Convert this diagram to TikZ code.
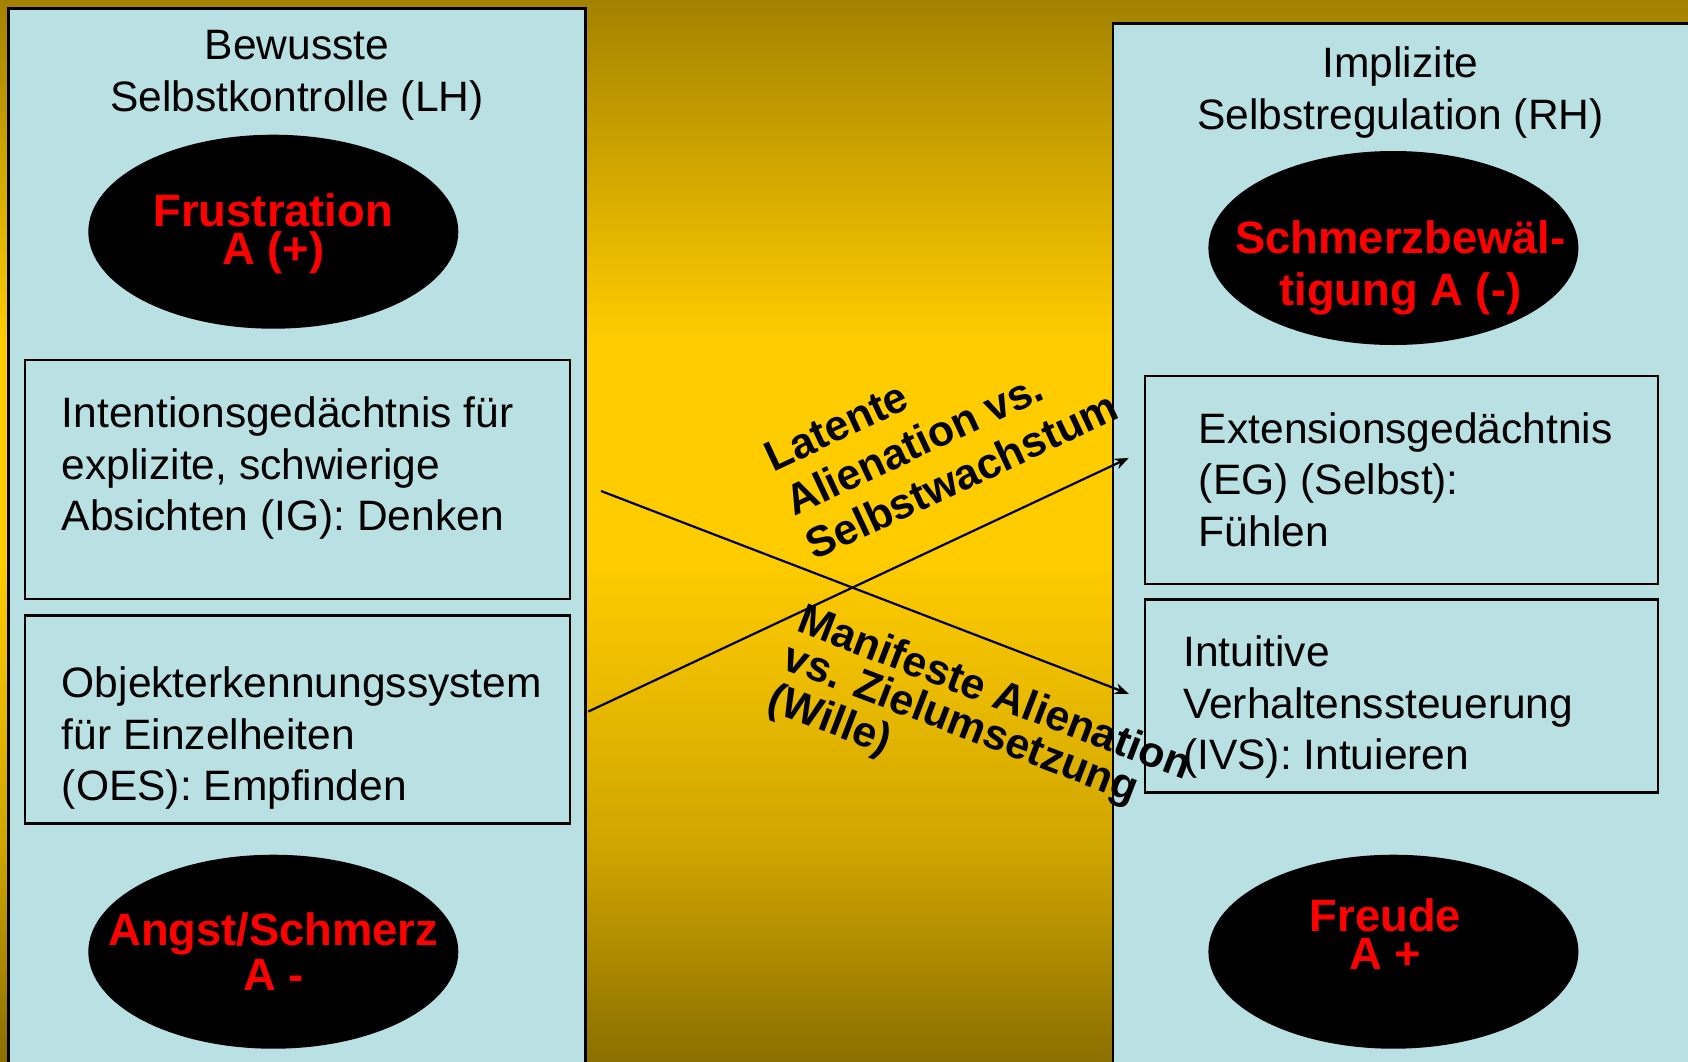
\documentclass[tikz,border=0pt]{standalone}
\usepackage{fontspec}
\setmainfont{Liberation Sans}
\usetikzlibrary{arrows.meta,calc,shapes.geometric}

\definecolor{panel}{RGB}{185,224,227}
\definecolor{goldtop}{RGB}{163,130,0}
\definecolor{goldmid}{RGB}{255,204,0}
\definecolor{goldlow}{RGB}{207,165,0}
\definecolor{goldbot}{RGB}{139,111,0}
\pgfdeclareverticalshading{goldband}{100bp}{color(0bp)=(goldbot); color(25bp)=(goldbot);
    color(35bp)=(goldlow); color(48.6bp)=(goldmid); color(59bp)=(goldmid);
    color(75bp)=(goldtop); color(100bp)=(goldtop)}

\begin{document}
\begin{tikzpicture}[x=0.1mm,y=-0.1mm,
    >={Stealth[length=1.4mm,width=1.1mm]},
    pane/.style={fill=panel,draw=black,line width=0.7pt},
    memo/.style={fill=panel,draw=black,line width=0.7pt,inner sep=0pt},
    blob/.style={ellipse,fill=black,minimum width=37mm,minimum height=19.4mm,inner sep=0pt},
    txt/.style={inner sep=0pt,align=left,anchor=north west,
        font=\fontsize{12.1pt}{14.7pt}\selectfont},
    head/.style={txt,align=center,anchor=north},
    redtxt/.style={inner sep=0pt,align=center,text=red,
        font=\fontsize{12.9pt}{10.8pt}\selectfont\bfseries},
    slant/.style={inner sep=0pt,align=left,anchor=north west,
        font=\fontsize{12.2pt}{13.9pt}\selectfont\bfseries},
]
    \useasboundingbox (0,0) rectangle (1688,1061);
    \clip (0,0) rectangle (1688,1061);
    \shade[shading=goldband] (0,0) rectangle (1688,1061);

    % the two halves
    \draw[pane] (8.6,8.6) rectangle (585.6,1075);
    \draw[pane] (1113,23.5) rectangle (1700,1075);
    \node[head] (lh) at (297,30) {Bewusste\\Selbstkontrolle (LH)};
    \node[head] (rh) at (1400.5,46) {Implizite\\Selbstregulation (RH)};

    % memory systems
    \node[memo,minimum width=54.5mm,minimum height=23.9mm] (ig) at (297.4,479.5) {};
    \node[memo,minimum width=54.5mm,minimum height=20.8mm] (oes) at (297.4,719.6) {};
    \node[memo,minimum width=51.3mm,minimum height=20.8mm] (eg) at (1401.5,479.9) {};
    \node[memo,minimum width=51.3mm,minimum height=19.3mm] (ivs) at (1401.5,695.8) {};
    \node[txt] (igtext) at (61.2,396) {Intentionsgedächtnis für\\explizite, schwierige\\Absichten (IG): Denken};
    \node[txt] (oestext) at (61.2,666) {Objekterkennungssystem\\für Einzelheiten\\(OES): Empfinden};
    \node[txt] (egtext) at (1198.2,411.7) {Extensionsgedächtnis\\(EG) (Selbst):\\Fühlen};
    \node[txt] (ivstext) at (1182.5,635) {Intuitive\\Verhaltenssteuerung\\(IVS): Intuieren};

    % affects
    \node[blob] (fru) at (273.3,231.7) {};
    \node[blob] (angst) at (273.3,951.7) {};
    \node[blob] (schmerz) at (1393.4,248) {};
    \node[blob] (freude) at (1393.4,951.7) {};
    \node[redtxt] (frutext) at ($(fru)+(0,2)$) {Frustration\\A (+)};
    \node[redtxt] (angsttext) at (angst) {Angst/Schmerz\\A -};
    \node[redtxt,font=\fontsize{12.9pt}{14.8pt}\selectfont\bfseries] (schmerztext)
        at ($(schmerz)+(7,20)$) {Schmerzbewäl-\\tigung A (-)};
    \node[redtxt] (freudetext) at ($(freude)+(-8,-18)$) {Freude\\A +};

    \draw[->,line width=0.22mm,shorten <=3.2mm] (ig.east) -- ($(ivs.west)+(-15,-2)$);
    \draw[->,line width=0.22mm,shorten <=1.9mm] (oes.east) -- ($(eg.west)+(-15,-22)$);

    \node[slant,rotate=25] (latent) at (760,445) {Latente\\Alienation vs.\\Selbstwachstum};
    \node[slant,rotate=-21,font=\fontsize{12.2pt}{11.4pt}\selectfont\bfseries] (manifest)
        at (806,601) {Manifeste Alienation\\vs. Zielumsetzung\\(Wille)};
\end{tikzpicture}
\end{document}
